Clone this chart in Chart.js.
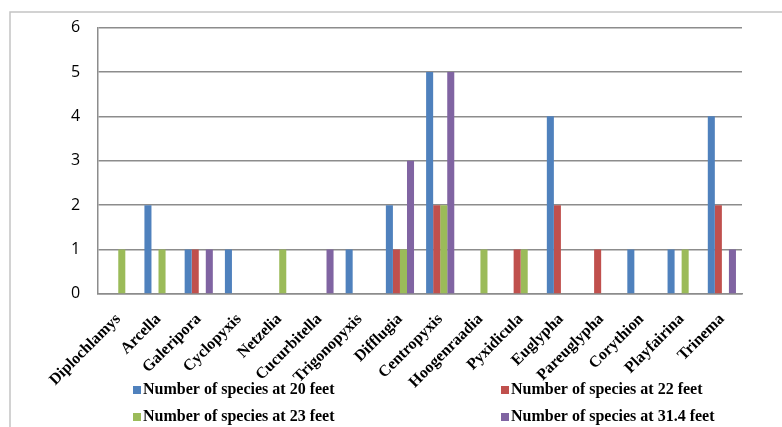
<!DOCTYPE html>
<html>
<head>
<meta charset="utf-8">
<script src="https://cdn.jsdelivr.net/npm/chart.js@4/dist/chart.umd.min.js"></script>
<style>
  html, body { margin: 0; padding: 0; background: #ffffff; }
  #wrap { width: 782px; height: 427px; position: relative; }
</style>
</head>
<body>
<div id="wrap"><canvas id="chart" width="782" height="427"></canvas></div>
<script>
// Testate amoebae genera recorded at each depth
const genera = ["Diplochlamys", "Arcella", "Galeripora", "Cyclopyxis", "Netzelia", "Cucurbitella",
  "Trigonopyxis", "Difflugia", "Centropyxis", "Hoogenraadia", "Pyxidicula", "Euglypha",
  "Pareuglypha", "Corythion", "Playfairina", "Trinema"];

const at20ft   = [0, 2, 1, 1, 0, 0, 1, 2, 5, 0, 0, 4, 0, 1, 1, 4];
const at22ft   = [0, 0, 1, 0, 0, 0, 0, 1, 2, 0, 1, 2, 1, 0, 0, 2];
const at23ft   = [1, 1, 0, 0, 1, 0, 0, 1, 2, 1, 1, 0, 0, 0, 1, 0];
const at31_4ft = [0, 0, 1, 0, 0, 1, 0, 3, 5, 0, 0, 0, 0, 0, 0, 1];

const seriesLabels = [
  "Number of species at 20 feet",
  "Number of species at 22 feet",
  "Number of species at 23 feet",
  "Number of species at 31.4 feet"
];
const seriesColors = ["#4F81BD", "#C0504D", "#9BBB59", "#8064A2"];
const yTicks = [0, 1, 2, 3, 4, 5, 6];

const serif = "'Liberation Serif', 'Times New Roman', serif";

// Thin frame around the whole figure
const framePlugin = {
  id: "frame",
  beforeDraw(chart) {
    const ctx = chart.ctx;
    ctx.save();
    ctx.fillStyle = "#ffffff";
    ctx.fillRect(0, 0, chart.width, chart.height);
    ctx.strokeStyle = "#c4c4c4";
    ctx.lineWidth = 1.5;
    ctx.beginPath();
    ctx.moveTo(10, chart.height);
    ctx.lineTo(10, 12);
    ctx.lineTo(chart.width, 12);
    ctx.stroke();
    ctx.restore();
  }
};

// Two-column legend below the axis labels
const legendPlugin = {
  id: "twoColLegend",
  afterDraw(chart) {
    const ctx = chart.ctx;
    const cols = [133, 501];
    const rows = [390, 417];
    ctx.save();
    ctx.font = "bold 16px " + serif;
    ctx.textBaseline = "middle";
    ctx.textAlign = "left";
    chart.data.datasets.forEach((ds, i) => {
      const x = cols[i % 2];
      const y = rows[Math.floor(i / 2)];
      ctx.fillStyle = ds.backgroundColor;
      ctx.fillRect(x, y - 4, 8, 8);
      ctx.fillStyle = "#000000";
      ctx.fillText(ds.label, x + 10, y);
    });
    ctx.restore();
  }
};

const datasets = [at20ft, at22ft, at23ft, at31_4ft].map((vals, i) => ({
  label: seriesLabels[i],
  data: vals,
  backgroundColor: seriesColors[i],
  borderWidth: 0
}));

new Chart(document.getElementById("chart"), {
  type: "bar",
  data: { labels: genera, datasets },
  options: {
    responsive: false,
    animation: false,
    events: [],
    layout: { padding: { left: 53, right: 40, top: 27, bottom: 19 } },
    datasets: { bar: { categoryPercentage: 0.7, barPercentage: 1.0 } },
    plugins: { legend: { display: false }, tooltip: { enabled: false } },
    scales: {
      x: {
        grid: { display: false, drawTicks: false },
        border: { display: true, color: "#8c8c8c", width: 1.5 },
        afterFit(scale) { scale.paddingLeft = 0; scale.paddingRight = 0; },
        ticks: {
          color: "#000000",
          font: { family: serif, size: 16, weight: "bold" },
          minRotation: 45,
          maxRotation: 45,
          autoSkip: false,
          padding: 16
        }
      },
      y: {
        min: 0,
        max: 6,
        afterBuildTicks(scale) { scale.ticks = yTicks.map(v => ({ value: v })); },
        grid: { color: "#8c8c8c", lineWidth: 1.5, drawTicks: false },
        border: { display: true, color: "#8c8c8c", width: 1.5 },
        ticks: {
          color: "#000000",
          font: { family: "'Open Sans', sans-serif", size: 16 },
          padding: 18
        }
      }
    }
  },
  plugins: [framePlugin, legendPlugin]
});
</script>
</body>
</html>
